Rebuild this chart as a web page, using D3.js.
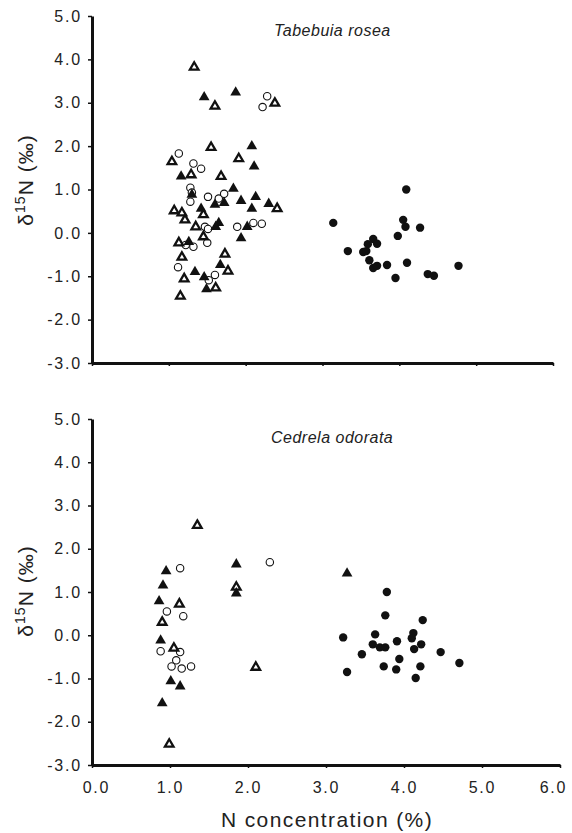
<!DOCTYPE html>
<html>
<head>
  <meta charset="utf-8">
  <title>d15N vs N concentration</title>
  <script src="https://d3js.org/d3.v7.min.js"></script>
  <style>
    body { margin: 0; background: #fff; }
    text { font-family: "Liberation Sans", Arial, sans-serif; fill: #222; }
    .axis path, .axis line { stroke: #111; }
    .axis path { stroke-width: 3px; }
    .axis line { stroke-width: 1.5px; }
    .axis text { font-size: 16px; letter-spacing: 1.8px; fill: #222; }
    .species { font-size: 16px; font-style: italic; letter-spacing: 0.5px; }
  </style>
</head>
<body>
  <svg id="chart"></svg>

  <script>
    // Tabebuia rosea  [N %, d15N]
    const roseaFilledTri = [
      [1.46, 3.13], [1.87, 3.24], [2.08, 2.0], [2.11, 1.53], [1.16, 1.30], [1.84, 1.02],
      [1.30, 0.88], [1.72, 0.69], [1.60, 0.65], [1.94, 0.74], [2.13, 0.83], [2.30, 0.67],
      [2.08, 0.56], [1.42, 0.56], [1.65, 0.23], [1.61, 0.14], [2.02, 0.14], [1.94, -0.12],
      [1.26, -0.21], [1.67, -0.74], [1.34, -0.90], [1.46, -1.02], [1.49, -1.30]
    ];
    const roseaOpenTri = [
      [1.33, 3.82], [1.60, 2.92], [2.38, 2.99], [1.55, 1.97], [1.91, 1.71], [1.04, 1.64],
      [1.29, 1.34], [1.68, 1.30], [1.07, 0.51], [1.17, 0.46], [1.45, 0.42], [1.21, 0.30],
      [1.35, 0.14], [2.41, 0.56], [1.45, -0.09], [1.13, -0.23], [1.17, -0.56], [1.73, -0.49],
      [1.77, -0.88], [1.20, -1.06], [1.61, -1.27], [1.15, -1.46]
    ];
    const roseaOpenCirc = [
      [2.28, 3.15], [2.22, 2.90], [1.13, 1.83], [1.32, 1.60], [1.42, 1.48], [1.28, 1.04],
      [1.30, 0.93], [1.28, 0.72], [1.51, 0.83], [1.65, 0.79], [1.72, 0.90], [1.47, 0.14],
      [1.51, 0.09], [1.89, 0.14], [2.10, 0.23], [2.21, 0.21], [1.22, -0.28], [1.32, -0.32],
      [1.50, -0.23], [1.12, -0.79], [1.60, -0.97], [1.52, -1.09]
    ];
    const roseaFilledCirc = [
      [4.09, 1.0], [3.14, 0.23], [4.05, 0.30], [4.08, 0.14], [4.27, 0.12], [3.98, -0.07],
      [3.66, -0.14], [3.71, -0.25], [3.59, -0.26], [3.33, -0.42], [3.53, -0.44], [3.57, -0.42],
      [3.61, -0.63], [3.66, -0.81], [3.71, -0.76], [3.84, -0.74], [4.10, -0.69], [3.95, -1.04],
      [4.37, -0.95], [4.45, -0.99], [4.77, -0.76]
    ];

    // Cedrela odorata  [N %, d15N]
    const cedrelaFilledTri = [
      [0.95, 1.48], [0.91, 1.15], [0.86, 0.79], [0.88, -0.12], [1.01, -1.06], [1.13, -1.18],
      [0.90, -1.57], [1.85, 1.64], [1.85, 0.97], [3.27, 1.43]
    ];
    const cedrelaOpenTri = [
      [1.35, 2.54], [1.12, 0.72], [0.90, 0.30], [1.05, -0.30], [0.99, -2.52], [2.10, -0.74],
      [1.85, 1.11]
    ];
    const cedrelaOpenCirc = [
      [1.13, 1.55], [0.96, 0.55], [1.17, 0.44], [0.88, -0.37], [1.13, -0.39], [1.08, -0.58],
      [1.02, -0.72], [1.15, -0.77], [1.27, -0.72], [2.28, 1.69]
    ];
    const cedrelaFilledCirc = [
      [3.78, 1.0], [3.76, 0.46], [4.24, 0.35], [3.22, -0.05], [3.63, 0.02], [3.60, -0.21],
      [3.69, -0.28], [3.76, -0.28], [3.91, -0.14], [4.12, 0.05], [4.10, -0.07], [4.22, -0.21],
      [4.13, -0.32], [3.46, -0.44], [3.94, -0.55], [4.47, -0.39], [4.71, -0.64], [3.74, -0.72],
      [3.90, -0.79], [4.21, -0.72], [3.27, -0.85], [4.15, -0.99]
    ];

    const xTicks = [0, 1, 2, 3, 4, 5, 6];
    const yTicks = [-3, -2, -1, 0, 1, 2, 3, 4, 5];

    const width = 572;
    const height = 833;

    const svg = d3.select("#chart")
                  .attr("width", width)
                  .attr("height", height);

    // plain hyphen for negatives, like the original
    const fmt = d => d.toFixed(1);

    function drawPanel(cfg) {
      const x = d3.scaleLinear().domain([0, 6]).range([92, cfg.xRight]);
      const y = d3.scaleLinear().domain([-3, 5]).range([cfg.yBottom, cfg.yTop]);

      const g = svg.append("g");

      // y axis
      g.append("g")
       .attr("class", "axis")
       .attr("transform", "translate(92,0)")
       .call(d3.axisLeft(y).tickValues(yTicks).tickFormat(fmt).tickSize(4).tickSizeOuter(0).tickPadding(6));

      // x axis
      const xAxis = d3.axisBottom(x).tickValues(xTicks).tickFormat(fmt).tickSize(3).tickSizeOuter(0).tickPadding(14);
      if (!cfg.xLabels) xAxis.tickFormat("");
      g.append("g")
       .attr("class", "axis x-axis")
       .attr("transform", `translate(0,${cfg.yBottom})`)
       .call(xAxis);
      // end labels pulled inward a bit
      g.selectAll(".x-axis text").attr("dx", d => d === 0 ? 4 : d === 6 ? -7 : 0);

      // species name
      g.append("text")
       .attr("class", "species")
       .attr("x", cfg.titleX)
       .attr("y", cfg.titleY)
       .text(cfg.title);

      // y title
      const yt = g.append("text")
       .attr("transform", `translate(33,${cfg.yTitleC}) rotate(-90)`)
       .attr("text-anchor", "middle")
       .style("font-size", "21px")
       .style("letter-spacing", "1px");
      yt.append("tspan").text("\u03b4");
      yt.append("tspan").attr("dy", -8).style("font-size", "14px").text("15");
      yt.append("tspan").attr("dy", 8).text("N (\u2030)");

      const triFilled = d3.symbol(d3.symbolTriangle, 50);
      const triOpen = d3.symbol(d3.symbolTriangle, 32);

      g.selectAll(".fc").data(cfg.filledCirc).enter().append("circle")
       .attr("cx", d => x(d[0])).attr("cy", d => y(d[1])).attr("r", 4.2)
       .attr("fill", "#111");

      g.selectAll(".oc").data(cfg.openCirc).enter().append("circle")
       .attr("cx", d => x(d[0])).attr("cy", d => y(d[1])).attr("r", 3.7)
       .attr("fill", "#fff").attr("stroke", "#111").attr("stroke-width", 1.1);

      g.selectAll(".ot").data(cfg.openTri).enter().append("path")
       .attr("d", triOpen)
       .attr("transform", d => `translate(${x(d[0])},${y(d[1])})`)
       .attr("fill", "#fff").attr("stroke", "#111").attr("stroke-width", 2.3)
       .attr("stroke-linejoin", "miter");

      g.selectAll(".ft").data(cfg.filledTri).enter().append("path")
       .attr("d", triFilled)
       .attr("transform", d => `translate(${x(d[0])},${y(d[1])})`)
       .attr("fill", "#111");
    }

    drawPanel({
      xRight: 553, yTop: 16, yBottom: 363, xLabels: false, yTitleC: 180,
      title: "Tabebuia rosea", titleX: 274, titleY: 36,
      filledTri: roseaFilledTri, openTri: roseaOpenTri,
      openCirc: roseaOpenCirc, filledCirc: roseaFilledCirc
    });

    drawPanel({
      xRight: 560, yTop: 419, yBottom: 765, xLabels: true, yTitleC: 591,
      title: "Cedrela odorata", titleX: 271, titleY: 443,
      filledTri: cedrelaFilledTri, openTri: cedrelaOpenTri,
      openCirc: cedrelaOpenCirc, filledCirc: cedrelaFilledCirc
    });

    // x title
    svg.append("text")
       .attr("x", 327)
       .attr("y", 827)
       .attr("text-anchor", "middle")
       .style("font-size", "21px")
       .style("letter-spacing", "1.4px")
       .text("N concentration (%)");
  </script>
</body>
</html>
